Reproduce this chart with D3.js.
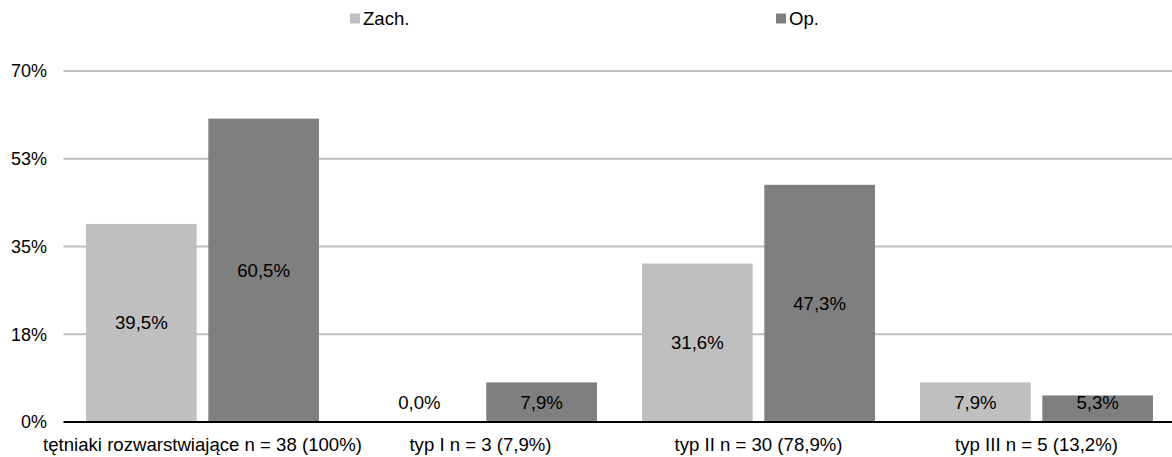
<!DOCTYPE html>
<html>
<head>
<meta charset="utf-8">
<script src="https://cdn.jsdelivr.net/npm/d3@7"></script>
<style>
  html, body { margin: 0; padding: 0; background: #fff; }
  svg { display: block; font-family: "Liberation Sans", Arial, sans-serif; }
</style>
</head>
<body>
<svg id="chart" width="1172" height="457"></svg>
<script>
// Categories and series values (percent)
const categories = [
  "tętniaki rozwarstwiające n = 38 (100%)",
  "typ I n = 3 (7,9%)",
  "typ II n = 30 (78,9%)",
  "typ III n = 5 (13,2%)"
];
const seriesNames = ["Zach.", "Op."];
const zachValues = [39.5, 0.0, 31.6, 7.9];
const opValues = [60.5, 7.9, 47.3, 5.3];
const tickValues = [0, 17.5, 35, 52.5, 70];
const tickLabels = ["0%", "18%", "35%", "53%", "70%"];

const colors = { "Zach.": "#bfbfbf", "Op.": "#7f7f7f" };
const FS = 18.6;      // labels, legend, categories
const FS_TICK = 18;   // value axis

const svg = d3.select("#chart");
const W = 1172, H = 457;
const plot = { left: 63.5, right: 1175.5, top: 71, bottom: 422 };

const x = d3.scaleBand()
  .domain(categories)
  .range([plot.left, plot.right])
  .paddingInner(0.162)
  .paddingOuter(0.081);

const xs = d3.scaleBand()
  .domain(seriesNames)
  .range([0, x.bandwidth()])
  .paddingInner(0.095);

const y = d3.scaleLinear().domain([0, 70]).range([plot.bottom, plot.top]);

// Gridlines
svg.append("g")
  .selectAll("line")
  .data(tickValues.filter(v => v > 0))
  .join("line")
  .attr("x1", plot.left)
  .attr("x2", W)
  .attr("y1", d => y(d))
  .attr("y2", d => y(d))
  .attr("stroke", "#bfbfbf")
  .attr("stroke-width", 2);

// Y tick labels
svg.append("g")
  .selectAll("text")
  .data(tickValues)
  .join("text")
  .attr("x", 47)
  .attr("y", d => y(d))
  .attr("dy", "0.35em")
  .attr("text-anchor", "end")
  .attr("font-size", FS_TICK)
  .attr("fill", "#000")
  .text((d, i) => tickLabels[i]);

// Bars
const rows = categories.map((c, i) => ({
  cat: c,
  vals: [
    { s: "Zach.", v: zachValues[i] },
    { s: "Op.", v: opValues[i] }
  ]
}));

const groups = svg.append("g")
  .selectAll("g")
  .data(rows)
  .join("g")
  .attr("transform", d => `translate(${x(d.cat)},0)`);

groups.selectAll("rect")
  .data(d => d.vals)
  .join("rect")
  .attr("x", d => xs(d.s))
  .attr("width", xs.bandwidth())
  .attr("y", d => y(d.v))
  .attr("height", d => y(0) - y(d.v))
  .attr("fill", d => colors[d.s]);

// Value labels, centred in each bar but kept clear of the axis line
const fmt = v => v.toFixed(1).replace(".", ",") + "%";
groups.selectAll("text")
  .data(d => d.vals)
  .join("text")
  .attr("x", d => xs(d.s) + xs.bandwidth() / 2)
  .attr("y", d => Math.min((y(d.v) + y(0)) / 2, y(0) - 20))
  .attr("dy", "0.35em")
  .attr("text-anchor", "middle")
  .attr("font-size", FS)
  .attr("fill", "#000")
  .text(d => fmt(d.v));

// Baseline
svg.append("line")
  .attr("x1", plot.left)
  .attr("x2", W)
  .attr("y1", y(0))
  .attr("y2", y(0))
  .attr("stroke", "#000")
  .attr("stroke-width", 2);

// Category labels
svg.append("g")
  .selectAll("text")
  .data(categories)
  .join("text")
  .attr("x", d => x(d) + x.bandwidth() / 2)
  .attr("y", 444.5)
  .attr("dy", "0.35em")
  .attr("text-anchor", "middle")
  .attr("font-size", FS)
  .attr("fill", "#000")
  .text(d => d);

// Legend
const legendX = { "Zach.": 350, "Op.": 776 };
const legend = svg.append("g")
  .selectAll("g")
  .data(seriesNames)
  .join("g")
  .attr("transform", d => `translate(${legendX[d]},18.5)`);
legend.append("rect")
  .attr("x", 0).attr("y", -5)
  .attr("width", 10).attr("height", 10)
  .attr("fill", d => colors[d]);
legend.append("text")
  .attr("x", 13)
  .attr("y", 0)
  .attr("dy", "0.35em")
  .attr("font-size", FS)
  .attr("fill", "#000")
  .text(d => d);
</script>
</body>
</html>
